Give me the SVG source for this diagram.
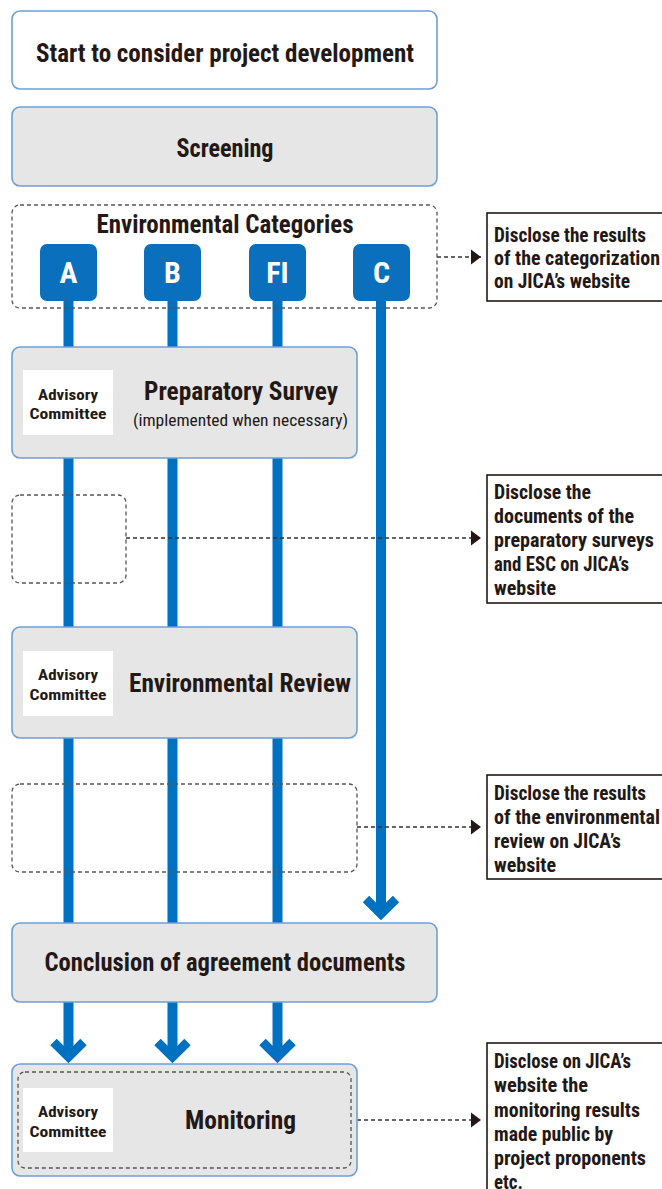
<svg xmlns="http://www.w3.org/2000/svg" width="662" height="1189" viewBox="0 0 662 1189">
<defs>
<style>
.box{fill:#e6e6e6;stroke:#6f9fd8;stroke-width:1.6}
.wbox{fill:#ffffff;stroke:#6f9fd8;stroke-width:1.6}
.dash{fill:none;stroke:#555;stroke-width:1.3;stroke-dasharray:4 3}
.cat{fill:#0a6fbd}
.flow{stroke:#0070c0;stroke-width:10;fill:none}
.link{stroke:#333;stroke-width:1.3;stroke-dasharray:4 3;fill:none}
.note{fill:#ffffff;stroke:#231815;stroke-width:1.6}
.adv{fill:#ffffff}
text{font-family:"Liberation Sans Narrow","Roboto Condensed","Liberation Sans",sans-serif;fill:#231815}
.t{font-size:25px;font-weight:bold;text-anchor:middle}
.s{font-size:17px;text-anchor:middle}
.a{font-size:15px;font-weight:bold;text-anchor:middle}
.c{font-size:30px;font-weight:bold;text-anchor:middle;fill:#ffffff}
.n{font-size:20px;font-weight:bold}
</style>
<marker id="chev" markerUnits="userSpaceOnUse" markerWidth="40" markerHeight="40" viewBox="-25 -20 40 40" refX="0" refY="0" orient="auto" overflow="visible">
<path d="M-15,-15 L0,0 L-15,15" fill="none" stroke="#0070c0" stroke-width="9" stroke-linejoin="miter"/>
</marker>
<marker id="tri" markerUnits="userSpaceOnUse" markerWidth="12" markerHeight="16" viewBox="0 -8 12 16" refX="10" refY="0" orient="auto" overflow="visible">
<path d="M0,-7.5 L10,0 L0,7.5 z" fill="#231815"/>
</marker>
</defs>

<g id="connectors">
<line class="flow" x1="68.5" y1="300" x2="68.5" y2="1057" marker-end="url(#chev)"/>
<line class="flow" x1="172.5" y1="300" x2="172.5" y2="1057" marker-end="url(#chev)"/>
<line class="flow" x1="277.5" y1="300" x2="277.5" y2="1057" marker-end="url(#chev)"/>
<line class="flow" x1="381" y1="300" x2="381" y2="914" marker-end="url(#chev)"/>
<line class="link" x1="437" y1="257" x2="481" y2="257" marker-end="url(#tri)"/>
<line class="link" x1="126" y1="538" x2="481" y2="538" marker-end="url(#tri)"/>
<line class="link" x1="357" y1="827" x2="481" y2="827" marker-end="url(#tri)"/>
<line class="link" x1="357" y1="1120" x2="481" y2="1120" marker-end="url(#tri)"/>
</g>

<g id="start">
<rect class="wbox" x="12" y="11" width="425" height="78" rx="8"/>
<text class="t" x="225" y="62" textLength="378" lengthAdjust="spacingAndGlyphs">Start to consider project development</text>
</g>

<g id="screening">
<rect class="box" x="12" y="107" width="425" height="79" rx="8"/>
<text class="t" x="225" y="157" textLength="97" lengthAdjust="spacingAndGlyphs">Screening</text>
</g>

<g id="categories">
<rect class="dash" x="12" y="205" width="425" height="103" rx="8"/>
<text class="t" x="225" y="233" textLength="257" lengthAdjust="spacingAndGlyphs">Environmental Categories</text>
</g>
<g id="cat-a">
<rect class="cat" x="40" y="244" width="57" height="57" rx="7"/>
<text class="c" x="68.5" y="283">A</text>
</g>
<g id="cat-b">
<rect class="cat" x="144" y="244" width="57" height="57" rx="7"/>
<text class="c" x="172.5" y="283">B</text>
</g>
<g id="cat-fi">
<rect class="cat" x="249" y="244" width="57" height="57" rx="7"/>
<text class="c" x="277.5" y="283">FI</text>
</g>
<g id="cat-c">
<rect class="cat" x="353" y="244" width="57" height="57" rx="7"/>
<text class="c" x="381.5" y="283">C</text>
</g>

<g id="note-categorization">
<rect class="note" x="487" y="213" width="200" height="88"/>
<text class="n" x="494" y="242" textLength="152" lengthAdjust="spacingAndGlyphs">Disclose the results</text>
<text class="n" x="494" y="265" textLength="166" lengthAdjust="spacingAndGlyphs">of the categorization</text>
<text class="n" x="494" y="288" textLength="136" lengthAdjust="spacingAndGlyphs">on JICA’s website</text>
</g>

<g id="preparatory-survey">
<rect class="box" x="12" y="347" width="345" height="111" rx="8"/>
<rect class="adv" x="23" y="370" width="90" height="65"/>
<text class="a" x="68" y="400" textLength="60" lengthAdjust="spacingAndGlyphs">Advisory</text>
<text class="a" x="68" y="419" textLength="77" lengthAdjust="spacingAndGlyphs">Committee</text>
<text class="t" x="241" y="400" textLength="194" lengthAdjust="spacingAndGlyphs">Preparatory Survey</text>
<text class="s" x="240.5" y="426" textLength="215" lengthAdjust="spacingAndGlyphs">(implemented when necessary)</text>
</g>

<g id="survey-disclosure-frame">
<rect class="dash" x="12" y="495" width="114" height="88" rx="8"/>
</g>

<g id="note-survey">
<rect class="note" x="487" y="475" width="200" height="128"/>
<text class="n" x="494" y="499" textLength="97" lengthAdjust="spacingAndGlyphs">Disclose the</text>
<text class="n" x="494" y="523" textLength="140" lengthAdjust="spacingAndGlyphs">documents of the</text>
<text class="n" x="494" y="547" textLength="160" lengthAdjust="spacingAndGlyphs">preparatory surveys</text>
<text class="n" x="494" y="571" textLength="135" lengthAdjust="spacingAndGlyphs">and ESC on JICA’s</text>
<text class="n" x="494" y="595" textLength="62" lengthAdjust="spacingAndGlyphs">website</text>
</g>

<g id="environmental-review">
<rect class="box" x="12" y="627" width="345" height="111" rx="8"/>
<rect class="adv" x="23" y="651" width="90" height="65"/>
<text class="a" x="68" y="680" textLength="60" lengthAdjust="spacingAndGlyphs">Advisory</text>
<text class="a" x="68" y="700" textLength="77" lengthAdjust="spacingAndGlyphs">Committee</text>
<text class="t" x="240" y="692" textLength="222" lengthAdjust="spacingAndGlyphs">Environmental Review</text>
</g>

<g id="review-disclosure-frame">
<rect class="dash" x="12" y="784" width="345" height="88" rx="8"/>
</g>

<g id="note-review">
<rect class="note" x="487" y="775" width="200" height="104"/>
<text class="n" x="494" y="800" textLength="152" lengthAdjust="spacingAndGlyphs">Disclose the results</text>
<text class="n" x="494" y="824" textLength="166" lengthAdjust="spacingAndGlyphs">of the environmental</text>
<text class="n" x="494" y="848" textLength="127" lengthAdjust="spacingAndGlyphs">review on JICA’s</text>
<text class="n" x="494" y="872" textLength="62" lengthAdjust="spacingAndGlyphs">website</text>
</g>

<g id="conclusion">
<rect class="box" x="12" y="923" width="425" height="79" rx="8"/>
<text class="t" x="225" y="971" textLength="361" lengthAdjust="spacingAndGlyphs">Conclusion of agreement documents</text>
</g>

<g id="monitoring">
<rect class="box" x="12" y="1064" width="345" height="112" rx="8"/>
<rect class="dash" x="18" y="1072" width="333" height="96" rx="7"/>
<rect class="adv" x="23" y="1088" width="90" height="64"/>
<text class="a" x="68" y="1117" textLength="60" lengthAdjust="spacingAndGlyphs">Advisory</text>
<text class="a" x="68" y="1137" textLength="77" lengthAdjust="spacingAndGlyphs">Committee</text>
<text class="t" x="240.5" y="1129" textLength="111" lengthAdjust="spacingAndGlyphs">Monitoring</text>
</g>

<g id="note-monitoring">
<rect class="note" x="487" y="1043" width="200" height="170"/>
<text class="n" x="494" y="1068" textLength="137" lengthAdjust="spacingAndGlyphs">Disclose on JICA’s</text>
<text class="n" x="494" y="1092" textLength="94" lengthAdjust="spacingAndGlyphs">website the</text>
<text class="n" x="494" y="1117" textLength="146" lengthAdjust="spacingAndGlyphs">monitoring results</text>
<text class="n" x="494" y="1141" textLength="119" lengthAdjust="spacingAndGlyphs">made public by</text>
<text class="n" x="494" y="1165" textLength="152" lengthAdjust="spacingAndGlyphs">project proponents</text>
<text class="n" x="494" y="1189" textLength="29" lengthAdjust="spacingAndGlyphs">etc.</text>
</g>
</svg>
